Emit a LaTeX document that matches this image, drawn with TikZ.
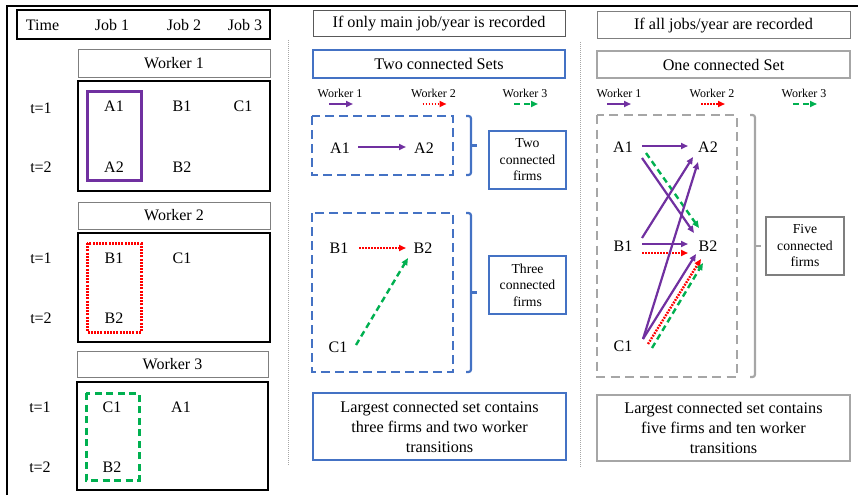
\documentclass[tikz,border=0pt]{standalone}
\usepackage{fontspec}
\setmainfont{Liberation Serif}
\usetikzlibrary{arrows.meta}
\definecolor{wpurple}{HTML}{7030A0}
\definecolor{wred}{HTML}{FF0000}
\definecolor{wgreen}{HTML}{00B050}
\definecolor{wblue}{HTML}{4472C4}
\definecolor{lgray}{HTML}{A6A6A6}
\definecolor{dgray}{HTML}{7F7F7F}
\definecolor{ddgray}{HTML}{595959}
\begin{document}
\begin{tikzpicture}[x=1pt,y=-1pt,
  txt/.style={font=\fontsize{16}{20}\selectfont, inner sep=1pt},
  legend/.style={font=\fontsize{12}{14}\selectfont, inner sep=0pt},
  small/.style={font=\fontsize{13.7}{16.5}\selectfont, align=center, inner sep=0pt},
  bigtxt/.style={font=\fontsize{16.2}{20}\selectfont, align=center, inner sep=0pt},
  blackbox/.style={draw=black, line width=1.3pt, inner sep=0pt},
  titlebox/.style={draw=dgray, line width=1pt, inner sep=0pt, font=\fontsize{16}{20}\selectfont},
  bluebox/.style={draw=wblue, line width=2.2pt, inner sep=0pt},
  graybox/.style={draw=lgray, line width=2.2pt, inner sep=0pt},
  thingray/.style={draw=dgray, line width=1.3pt, inner sep=0pt},
  tip/.style={-{Triangle[length=7pt,width=6pt]}},
  parr/.style={tip, draw=wpurple, line width=2.2pt},
  rarr/.style={tip, draw=wred, line width=2.4pt, dash pattern=on 1.8pt off 1.2pt},
  garr/.style={tip, draw=wgreen, line width=2.4pt, dash pattern=on 6pt off 4pt},
  sepline/.style={draw=lgray, line width=1pt, dash pattern=on 1pt off 1pt},
  bracebl/.style={draw=wblue, line width=2.2pt, rounded corners=2.5pt},
  bracegr/.style={draw=lgray, line width=2.2pt, rounded corners=2.5pt}
]
\useasboundingbox (0,0) rectangle (858,495);

% outer frame
\draw[line width=1.6pt] (7,495) -- (7,6) -- (858,6);

% ---------------- left panel ----------------
\node[blackbox, minimum width=253pt, minimum height=29pt] (hdr) at (143.5,24.5) {};
\node[txt] (hTime) at (42.5,25) {Time};
\node[txt] (hJ1) at (112,25) {Job 1};
\node[txt] (hJ2) at (184,25) {Job 2};
\node[txt] (hJ3) at (245,25) {Job 3};

% worker 1
\node[titlebox, minimum width=192pt, minimum height=27pt] (w1t) at (174,63.5) {Worker 1};
\node[blackbox, minimum width=192pt, minimum height=110pt] (w1b) at (174,136) {};
\draw[wpurple, line width=3pt] (87,91) rectangle (141,180);
\node[txt] (w1t1) at (41,108) {t=1};
\node[txt] (w1t2) at (41,167) {t=2};
\node[txt] (w1A1) at (114,106) {A1};
\node[txt] (w1B1) at (182,106) {B1};
\node[txt] (w1C1) at (243,106) {C1};
\node[txt] (w1A2) at (114,167.5) {A2};
\node[txt] (w1B2) at (182,167.5) {B2};

% worker 2
\node[titlebox, minimum width=192pt, minimum height=27pt] (w2t) at (174,215.5) {Worker 2};
\node[blackbox, minimum width=192pt, minimum height=109pt] (w2b) at (174,287.5) {};
\draw[wred, line width=3pt, dash pattern=on 2pt off 1.2pt] (87,243) rectangle (141,332);
\node[txt] (w2t1) at (41,258.5) {t=1};
\node[txt] (w2t2) at (41,318.5) {t=2};
\node[txt] (w2B1) at (114,258.5) {B1};
\node[txt] (w2C1) at (182,258.5) {C1};
\node[txt] (w2B2) at (114,318) {B2};

% worker 3
\node[titlebox, minimum width=191pt, minimum height=26pt] (w3t) at (172.5,364) {Worker 3};
\node[blackbox, minimum width=191pt, minimum height=108pt] (w3b) at (172.5,436) {};
\draw[wgreen, line width=3pt, dash pattern=on 7pt off 4.5pt] (86,393) rectangle (139,480);
\node[txt] (w3t1) at (40,407) {t=1};
\node[txt] (w3t2) at (40,467) {t=2};
\node[txt] (w3C1) at (112,407) {C1};
\node[txt] (w3A1) at (181,407) {A1};
\node[txt] (w3B2) at (112,467) {B2};

% separators
\draw[sepline] (288,40) -- (288,465);
\draw[sepline] (580,42) -- (580,467);

% ---------------- middle panel ----------------
\node[draw=ddgray, line width=1pt, inner sep=0pt, minimum width=252pt, minimum height=26pt, font=\fontsize{16.2}{20}\selectfont] (mh) at (439,24) {If only main job/year is recorded};
\node[bluebox, minimum width=252pt, minimum height=28pt, font=\fontsize{16.2}{20}\selectfont] (mt) at (439,64) {Two connected Sets};

\node[legend] (lgM1) at (340,93) {Worker 1};
\node[legend] (lgM2) at (433.5,93) {Worker 2};
\node[legend] (lgM3) at (525,93) {Worker 3};
\draw[parr] ([shift={(-11,11)}]lgM1.center) -- ([shift={(13,11)}]lgM1.center);
\draw[rarr] ([shift={(-11,11)}]lgM2.center) -- ([shift={(13,11)}]lgM2.center);
\draw[garr] ([shift={(-11,11)}]lgM3.center) -- ([shift={(13,11)}]lgM3.center);

\draw[wblue, line width=2.7pt, dash pattern=on 9pt off 5pt] (312,116) rectangle (453,175);
\draw[bracebl] (466,116) -| (471,145.5) |- (466,175);
\draw[wblue, line width=2.2pt] (471,145.5) -- (477,145.5);
\node[bluebox, minimum width=77pt, minimum height=58pt] (f1) at (527.5,160) {};
\node[small] (f1t) at (527.5,160) {Two\\connected\\firms};

\node[txt] (mA1) at (340,148) {A1};
\node[txt] (mA2) at (424,148) {A2};
\draw[parr] ([shift={(18,-1)}]mA1.center) -- ([shift={(-18,-1)}]mA2.center);

\draw[wblue, line width=2.7pt, dash pattern=on 9pt off 5pt] (312,213) rectangle (453,372);
\draw[bracebl] (466,213) -| (471,292.5) |- (466,372);
\draw[wblue, line width=2.2pt] (471,292.5) -- (477,292.5);
\node[bluebox, minimum width=77pt, minimum height=58pt] (f2) at (527.5,285) {};
\node[small] (f2t) at (527.5,285) {Three\\connected\\firms};

\node[txt] (mB1) at (339,248) {B1};
\node[txt] (mB2) at (423,248) {B2};
\node[txt] (mC1) at (338,347) {C1};
\draw[rarr] ([shift={(20,0)}]mB1.center) -- ([shift={(-17,0)}]mB2.center);
\draw[garr] ([shift={(18,-2)}]mC1.center) -- ([shift={(-15,10)}]mB2.center);

\node[bluebox, minimum width=253pt, minimum height=67pt] (mb) at (439.5,426.5) {};
\node[bigtxt] (mbt) at (439.5,426.5) {Largest connected set contains\\three firms and two worker\\transitions};

% ---------------- right panel ----------------
\node[draw=dgray, line width=1pt, inner sep=0pt, minimum width=253pt, minimum height=27pt, font=\fontsize{16.2}{20}\selectfont] (rh) at (723.5,25.5) {If all jobs/year are recorded};
\node[graybox, minimum width=253pt, minimum height=27pt, font=\fontsize{16.2}{20}\selectfont] (rt) at (723.5,64.5) {One connected Set};

\node[legend] (lgR1) at (619,93) {Worker 1};
\node[legend] (lgR2) at (712,93) {Worker 2};
\node[legend] (lgR3) at (804,93) {Worker 3};
\draw[parr] ([shift={(-12,11)}]lgR1.center) -- ([shift={(12,11)}]lgR1.center);
\draw[rarr] ([shift={(-11,11)}]lgR2.center) -- ([shift={(13,11)}]lgR2.center);
\draw[garr] ([shift={(-11,11)}]lgR3.center) -- ([shift={(13,11)}]lgR3.center);

\draw[lgray, line width=2.7pt, dash pattern=on 9pt off 5.5pt] (597,115) rectangle (737,377);
\draw[bracegr] (750,115) -| (755,246) |- (750,377);
\draw[lgray, line width=2.2pt] (755,246) -- (761,246);
\node[thingray, minimum width=78pt, minimum height=58pt] (f3) at (805,246) {};
\node[small] (f3t) at (805,246) {Five\\connected\\firms};

\node[txt] (rA1) at (623,147) {A1};
\node[txt] (rA2) at (708,147) {A2};
\node[txt] (rB1) at (623,246) {B1};
\node[txt] (rB2) at (708,246) {B2};
\node[txt] (rC1) at (623,346) {C1};

\draw[parr] ([shift={(19,-1)}]rA1.center) -- ([shift={(-20,-1)}]rA2.center);
\draw[parr] ([shift={(19,11)}]rA1.center) -- ([shift={(-14,-13)}]rB2.center);
\draw[garr] ([shift={(23,6)}]rA1.center) -- ([shift={(-9,-18)}]rB2.center);
\draw[parr] ([shift={(19,-8)}]rB1.center) -- ([shift={(-15,10)}]rA2.center);
\draw[parr] ([shift={(19,-2)}]rB1.center) -- ([shift={(-20,-2)}]rB2.center);
\draw[rarr] ([shift={(19,7)}]rB1.center) -- ([shift={(-20,7)}]rB2.center);
\draw[parr] ([shift={(20,-7)}]rC1.center) -- ([shift={(-10,15)}]rA2.center);
\draw[parr] ([shift={(20,-7)}]rC1.center) -- ([shift={(-12,8)}]rB2.center);
\draw[rarr] ([shift={(25,-2)}]rC1.center) -- ([shift={(-7,13)}]rB2.center);
\draw[garr] ([shift={(29,2)}]rC1.center) -- ([shift={(-5,17)}]rB2.center);

\node[graybox, minimum width=253pt, minimum height=66pt] (rb) at (723.5,428) {};
\node[bigtxt] (rbt) at (723.5,428) {Largest connected set contains\\five firms and ten worker\\transitions};
\end{tikzpicture}
\end{document}
